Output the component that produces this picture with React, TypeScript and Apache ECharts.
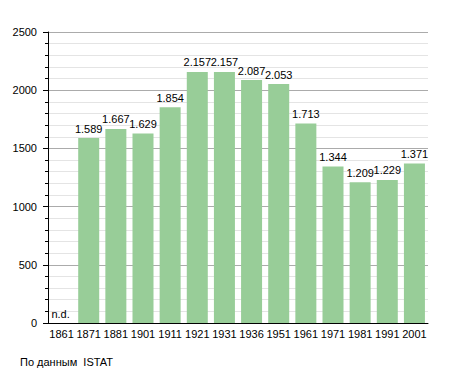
import React, { useEffect, useRef } from "react";
import * as echarts from "echarts";

const years = ["1861", "1871", "1881", "1901", "1911", "1921", "1931", "1936", "1951", "1961", "1971", "1981", "1991", "2001"];
const population: (number | null)[] = [null, 1589, 1667, 1629, 1854, 2157, 2157, 2087, 2053, 1713, 1344, 1209, 1229, 1371];
const sourceText = "По данным  ISTAT";

const fmt = (v: number) => {
  const s = String(Math.round(v));
  return s.replace(/\B(?=(\d{3})+(?!\d))/g, ".");
};

export default function App() {
  const ref = useRef<HTMLDivElement>(null);
  useEffect(() => {
    if (!ref.current) return;
    const chart = echarts.init(ref.current, null, { renderer: "svg" });
    const font = "'Liberation Sans', Arial, sans-serif";
    chart.setOption({
      animation: false,
      backgroundColor: "#ffffff",
      textStyle: { fontFamily: font },
      grid: { left: 48, right: 27, top: 32, bottom: 50 },
      xAxis: {
        type: "category",
        data: years,
        axisTick: { show: false },
        axisLine: { lineStyle: { color: "#000", width: 1 } },
        axisLabel: { interval: 0, color: "#000", fontSize: 11, fontFamily: font, margin: 5 },
      },
      yAxis: {
        type: "value",
        min: 0,
        max: 2500,
        interval: 500,
        axisLine: { show: true, lineStyle: { color: "#000", width: 1 } },
        axisTick: { show: true, length: 5, lineStyle: { color: "#000" } },
        minorTick: { show: true, splitNumber: 5, length: 3, lineStyle: { color: "#000" } },
        axisLabel: { color: "#000", fontSize: 11, fontFamily: font, margin: 11, formatter: (v: number) => String(v) },
        splitLine: { show: true, lineStyle: { color: "#ababab", width: 1 } },
        minorSplitLine: { show: true, lineStyle: { color: "#e4e4e4", width: 1 } },
      },
      series: [
        {
          type: "bar",
          barWidth: 21,
          itemStyle: { color: "#98cd98" },
          data: population.map((v) =>
            v === null
              ? { value: 0, label: { show: true, formatter: "n.d.", offset: [-1, 0] } }
              : v
          ),
          label: {
            show: true,
            position: "top",
            distance: 4,
            color: "#000",
            fontSize: 11,
            fontFamily: font,
            formatter: (p: any) => (p.value === 0 ? "n.d." : fmt(p.value)),
          },
        },
      ],
      graphic: [
        {
          type: "text",
          left: 20,
          top: 356,
          style: { text: sourceText, fill: "#000", fontSize: 11, fontFamily: font },
        },
      ],
    });
    return () => chart.dispose();
  }, []);
  return <div ref={ref} style={{ width: 455, height: 373, position: "absolute", left: 0, top: 0 }} />;
}
